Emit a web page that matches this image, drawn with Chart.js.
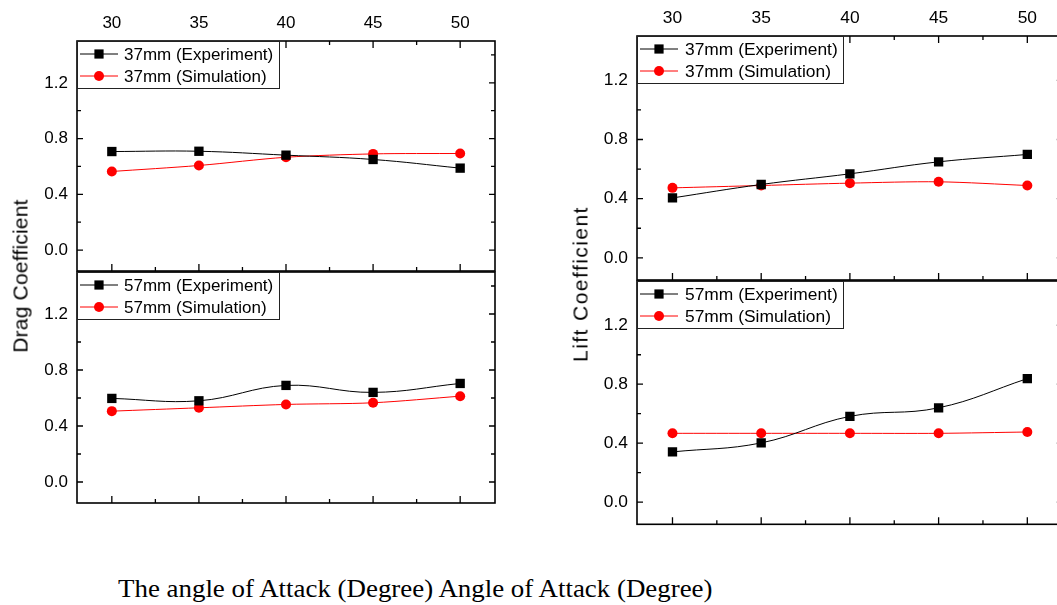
<!DOCTYPE html>
<html><head><meta charset="utf-8">
<script src="https://cdn.jsdelivr.net/npm/chart.js@4"></script>
<style>
html,body{margin:0;padding:0;background:#fff;}
#wrap{position:relative;width:1057px;height:605px;overflow:hidden;background:#fff;}
canvas{position:absolute;}
.ytitle{position:absolute;font-family:"Liberation Sans",Arial,sans-serif;white-space:nowrap;line-height:1;color:#000;transform:translate(-50%,-50%) rotate(-90deg);}
#caption{position:absolute;left:118px;top:576px;font-family:"Liberation Serif","Times New Roman",serif;font-size:25px;line-height:1;white-space:nowrap;color:#000;transform-origin:0 0;transform:scaleX(1.076);}
</style></head><body><div id="wrap">
<canvas id="c1" width="520" height="300" style="left:0;top:0"></canvas>
<canvas id="c2" width="520" height="260" style="left:0;top:262px"></canvas>
<canvas id="c3" width="520" height="300" style="left:560px;top:0"></canvas>
<canvas id="c4" width="520" height="270" style="left:560px;top:271px"></canvas>
<div class="ytitle" style="left:20px;top:275.5px;font-size:21px;letter-spacing:0.2px;">Drag Coefficient</div>
<div class="ytitle" style="left:580px;top:283.5px;font-size:21px;letter-spacing:1.45px;">Lift Coefficient</div>
<div id="caption">The angle of Attack (Degree) Angle of Attack (Degree)</div>
</div>
<script>
const angles = [30, 35, 40, 45, 50];
const xTicks = [30, 35, 40, 45, 50];
const xMinor = [32.5, 37.5, 42.5, 47.5];
const yTicks = [0, 0.4, 0.8, 1.2];
const yMinor = [0.2, 0.6, 1.0, 1.4];

const drag37Exp = [0.707, 0.709, 0.681, 0.650, 0.588];
const drag37Sim = [0.564, 0.607, 0.666, 0.690, 0.693];
const drag57Exp = [0.597, 0.580, 0.690, 0.640, 0.704];
const drag57Sim = [0.506, 0.530, 0.554, 0.566, 0.613];
const lift37Exp = [0.405, 0.496, 0.568, 0.649, 0.699];
const lift37Sim = [0.473, 0.489, 0.505, 0.514, 0.489];
const lift57Exp = [0.341, 0.402, 0.582, 0.640, 0.838];
const lift57Sim = [0.467, 0.467, 0.467, 0.467, 0.476];

const labels37 = ['37mm (Experiment)', '37mm (Simulation)'];
const labels57 = ['57mm (Experiment)', '57mm (Simulation)'];

const FONT = '"Liberation Sans", Arial, sans-serif';

const framePlugin = {
  id: 'frame',
  afterDraw(chart) {
    const o = chart.config.options.plugins.frame;
    const {ctx, chartArea: a, scales: {x, y}} = chart;
    ctx.save();
    ctx.strokeStyle = '#000';
    ctx.lineWidth = 1.3;
    ctx.beginPath();
    const yt = (vals, len) => vals.forEach(v => {
      const py = y.getPixelForValue(v);
      ctx.moveTo(a.left, py); ctx.lineTo(a.left + len, py);
      ctx.moveTo(a.right, py); ctx.lineTo(a.right - len, py);
    });
    yt(yTicks, 6); yt(yMinor, 4);
    const xt = (vals, len) => vals.forEach(v => {
      const px = x.getPixelForValue(v);
      ctx.moveTo(px, a.bottom); ctx.lineTo(px, a.bottom - len);
      if (o.topTicks) { ctx.moveTo(px, a.top); ctx.lineTo(px, a.top + len); }
    });
    xt(xTicks, 7); xt(xMinor, 4);
    ctx.stroke();
    ctx.lineWidth = 1.6;
    ctx.strokeRect(a.left, a.top, a.right - a.left, a.bottom - a.top);
    // legend box
    const lx = a.left, ly = a.top, lw = o.legW, lh = 47;
    ctx.fillStyle = '#fff';
    ctx.fillRect(lx, ly, lw, lh);
    ctx.lineWidth = 1;
    ctx.strokeStyle = '#222';
    ctx.strokeRect(lx + 0.5, ly + 0.5, lw, lh);
    const rows = [13, 35];
    chart.data.datasets.forEach((ds, i) => {
      const ry = ly + rows[i];
      ctx.strokeStyle = ds.borderColor;
      ctx.lineWidth = 1;
      ctx.beginPath();
      ctx.moveTo(lx + 3, ry); ctx.lineTo(lx + 41, ry);
      ctx.stroke();
      ctx.fillStyle = ds.backgroundColor;
      if (ds.pointStyle === 'rect') {
        ctx.fillRect(lx + 22 - 4.6, ry - 4.6, 9.2, 9.2);
      } else {
        ctx.beginPath(); ctx.arc(lx + 22, ry, 5, 0, Math.PI * 2); ctx.fill();
      }
      ctx.fillStyle = '#000';
      ctx.font = o.fontSize + 'px ' + FONT;
      ctx.textBaseline = 'middle';
      ctx.textAlign = 'left';
      ctx.fillText(ds.label, lx + o.textX, ry + 1);
    });
    ctx.restore();
  }
};

function zeroPad(s) { s.paddingTop = 0; s.paddingBottom = 0; s.paddingLeft = 0; s.paddingRight = 0; }

function makePanel(id, cfg) {
  const pts = arr => angles.map((a, i) => ({x: a, y: arr[i]}));
  const chart = new Chart(document.getElementById(id), {
    type: 'line',
    data: {
      datasets: [
        {label: cfg.labels[0], data: pts(cfg.exp), borderColor: '#000', backgroundColor: '#000',
         borderWidth: 1, pointStyle: 'rect', pointRadius: 6.6, pointBorderWidth: 0, tension: 0.4},
        {label: cfg.labels[1], data: pts(cfg.sim), borderColor: '#ff0000', backgroundColor: '#ff0000',
         borderWidth: 1, pointStyle: 'circle', pointRadius: 5, pointBorderWidth: 0, tension: 0.3}
      ]
    },
    options: {
      responsive: false, animation: false, devicePixelRatio: 1,
      layout: {padding: {left: 0, top: 0, right: 20, bottom: 20}},
      plugins: {legend: {display: false}, tooltip: {enabled: false},
        frame: {topTicks: cfg.topTicks, legW: cfg.legW, textX: cfg.textX, fontSize: cfg.fontSize}},
      scales: {
        x: {type: 'linear', position: 'top', min: 28, max: 52, display: cfg.xLabels,
          afterBuildTicks: s => { s.ticks = xTicks.map(v => ({value: v})); },
          afterFit: s => { s.height = cfg.xHeight; zeroPad(s); },
          grid: {display: false, drawTicks: false}, border: {display: false},
          ticks: {padding: 7, color: '#000', font: {family: FONT, size: cfg.fontSize}, maxRotation: 0,
            callback: v => String(v)}},
        y: {type: 'linear', min: -0.15, max: 1.5,
          afterBuildTicks: s => { s.ticks = yTicks.map(v => ({value: v})); },
          afterFit: s => { s.width = 77; zeroPad(s); },
          grid: {display: false, drawTicks: false}, border: {display: false},
          ticks: {padding: 9, color: '#000', font: {family: FONT, size: cfg.fontSize},
            callback: v => v.toFixed(1)}}
      }
    },
    plugins: [framePlugin]
  });
  // fit the plot area to the target box
  const t = cfg.target;
  for (let k = 0; k < 4; k++) {
    const a = chart.chartArea, p = chart.options.layout.padding;
    const dt = t.top - a.top, db = a.bottom - t.bottom, dl = t.left - a.left, dr = a.right - t.right;
    if (Math.abs(dt) + Math.abs(db) + Math.abs(dl) + Math.abs(dr) < 0.05) break;
    p.top += dt; p.bottom += db; p.left += dl; p.right += dr;
    chart.update();
  }
}

makePanel('c1', {exp: drag37Exp, sim: drag37Sim, labels: labels37, target: {left: 77, top: 41, right: 495, bottom: 271},
  xLabels: true, xHeight: 41, topTicks: true, legW: 202, textX: 47, fontSize: 17});
makePanel('c2', {exp: drag57Exp, sim: drag57Sim, labels: labels57, target: {left: 77, top: 10, right: 495, bottom: 241},
  xLabels: false, xHeight: 0, topTicks: false, legW: 202, textX: 47, fontSize: 17});
makePanel('c3', {exp: lift37Exp, sim: lift37Sim, labels: labels37, target: {left: 77, top: 36, right: 502.8, bottom: 280},
  xLabels: true, xHeight: 36, topTicks: true, legW: 206, textX: 48, fontSize: 17.4});
makePanel('c4', {exp: lift57Exp, sim: lift57Sim, labels: labels57, target: {left: 77, top: 10, right: 502.8, bottom: 253.3},
  xLabels: false, xHeight: 0, topTicks: false, legW: 206, textX: 48, fontSize: 17.4});
</script>
</body></html>
